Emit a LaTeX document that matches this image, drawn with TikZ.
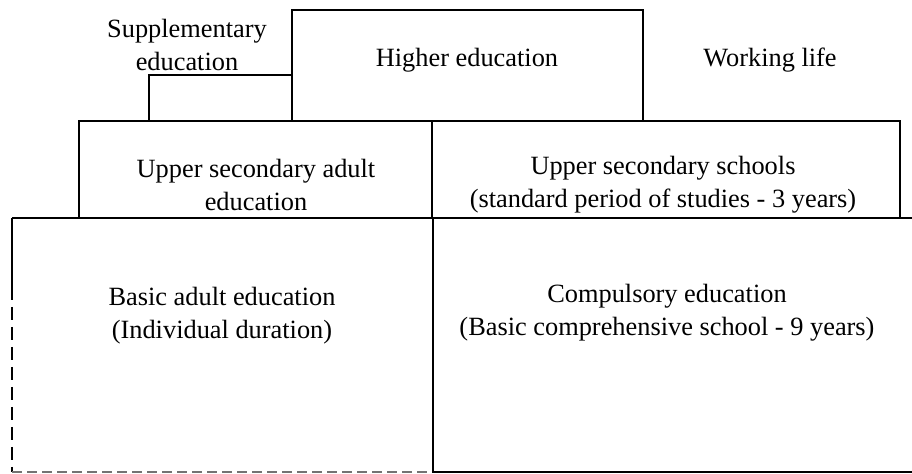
\documentclass[tikz,border=0pt]{standalone}
\usepackage{fontspec}
\setmainfont{Liberation Serif}

\begin{document}
\begin{tikzpicture}[line width=1.1pt, font=\fontsize{15}{18.8}\selectfont]
  \useasboundingbox (0,0) rectangle (18.24,9.48);

  % top row
  \draw (5.84,7.06) -- (5.84,9.28) -- (12.86,9.28) -- (12.86,7.06);
  \draw (2.98,7.06) -- (2.98,7.98) -- (5.84,7.98);
  \node[align=center] (supp) at (3.74,8.58) {Supplementary\\education};
  \node (higher) at (9.34,8.28) {Higher education};
  \node (work) at (15.4,8.28) {Working life};

  % upper secondary level
  \draw (1.58,5.12) -- (1.58,7.06) -- (18.0,7.06) -- (18.0,5.12);
  \draw (8.64,5.12) -- (8.64,7.06);
  \draw (0.24,5.12) -- (18.24,5.12);
  \node[align=center] (adultup) at (5.12,5.78) {Upper secondary adult\\education};
  \node[align=center] (schools) at (13.26,5.78) {Upper secondary schools\\(standard period of studies - 3 years)};

  % basic level
  \draw (0.24,5.12) -- (0.24,3.74);
  \draw[dash pattern=on 0.26cm off 0.14cm] (0.24,3.74) -- (0.24,0.04);
  \draw[black!55, dash pattern=on 0.2cm off 0.1cm] (0.24,0.04) -- (8.66,0.04);
  \draw (8.66,5.12) -- (8.66,0.04) -- (18.24,0.04);
  \node[align=center] (adultbasic) at (4.44,3.16) {Basic adult education\\(Individual duration)};
  \node[align=center] (compulsory) at (13.34,3.22) {Compulsory education\\(Basic comprehensive school - 9 years)};
\end{tikzpicture}
\end{document}
